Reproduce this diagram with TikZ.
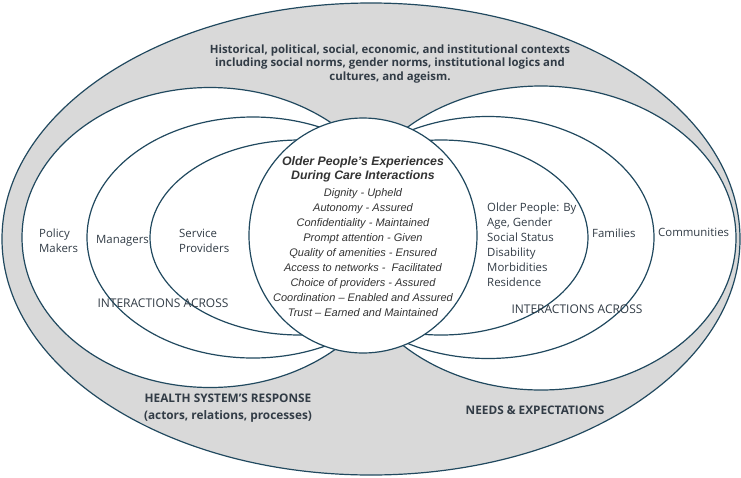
\documentclass[tikz,border=0pt]{standalone}
\usepackage{fontspec}
\setmainfont{Open Sans}
\newfontfamily\arialfont{Liberation Sans}
\usetikzlibrary{positioning,shapes.geometric}
\definecolor{ringline}{RGB}{33,73,95}
\definecolor{ctxgray}{RGB}{217,217,217}
\definecolor{labeltext}{RGB}{50,60,70}

\begin{document}
\begin{tikzpicture}[
    x=1pt, y=-1pt,
    ring/.style={draw=ringline, line width=1.2pt, fill=white, ellipse, inner sep=0pt, outer sep=0pt},
    lbl/.style={text=labeltext, font=\fontsize{11.4}{15}\selectfont, align=left, inner sep=0pt},
    across/.style={lbl, font=\fontsize{12}{15}\selectfont},
    head/.style={text=labeltext, font=\fontsize{11.4}{13.7}\selectfont\bfseries, align=center, inner sep=0pt},
    care/.style={text=black!80, align=center, inner sep=0pt}
]
\useasboundingbox (0,0) rectangle (741,477);
% context
\node[ring, fill=ctxgray, minimum width=738pt, minimum height=472pt] (context) at (371,239) {};
% health system side
\node[ring, minimum width=376pt, minimum height=300pt] (policy) at (210,237.5) {};
\node[ring, minimum width=332pt, minimum height=241pt] (managers) at (253,237.5) {};
\node[ring, minimum width=300pt, minimum height=195pt] (providers) at (300,237.5) {};
% needs side
\node[ring, minimum width=390pt, minimum height=304pt] (communities) at (541,238) {};
\node[ring, minimum width=332pt, minimum height=242pt] (families) at (488,237.5) {};
\node[ring, minimum width=294pt, minimum height=195pt] (olderpeople) at (441,237.5) {};
% centre
\node[ring, minimum width=228pt, minimum height=235pt] (care) at (363,235.5) {};

\node[head] (ctxtext) at (390,64) {Historical, political, social, economic, and institutional contexts\\including social norms, gender norms, institutional logics and\\cultures, and ageism.};
\node[lbl, anchor=west] (policytext) at (39,240.5) {Policy\\Makers};
\node[lbl, anchor=west] (managerstext) at (96,241) {Managers};
\node[lbl, anchor=west] (providerstext) at (179,240.5) {Service\\Providers};
\node[across] (hsacross) at (163,303) {INTERACTIONS ACROSS};
\node[lbl, anchor=west] (oldertext) at (487,244.5) {Older People: By\\Age, Gender\\Social Status\\Disability\\Morbidities\\Residence};
\node[lbl, anchor=west] (familiestext) at (592,233) {Families};
\node[lbl, anchor=west] (communitiestext) at (658,232) {Communities};
\node[across] (neacross) at (577,309) {INTERACTIONS ACROSS};
\node[care, font=\arialfont\bfseries\itshape\fontsize{12.3}{14}\selectfont] (carehead) at (363,169) {Older People’s Experiences\\During Care Interactions};
\node[care, font=\arialfont\itshape\fontsize{11}{15.1}\selectfont] (carelist) at (363,252.5) {Dignity - Upheld\\Autonomy - Assured\\Confidentiality - Maintained\\Prompt attention - Given\\Quality of amenities - Ensured\\Access to networks - \ Facilitated\\Choice of providers - Assured\\Coordination – Enabled and Assured\\Trust – Earned and Maintained};
\node[head, font=\fontsize{11.8}{17}\selectfont\bfseries] (hsresponse) at (228,408.5) {HEALTH SYSTEM’S RESPONSE\\(actors, relations, processes)};
\node[head, font=\fontsize{11.8}{17}\selectfont\bfseries] (needs) at (535,410) {NEEDS \& EXPECTATIONS};
\end{tikzpicture}
\end{document}
